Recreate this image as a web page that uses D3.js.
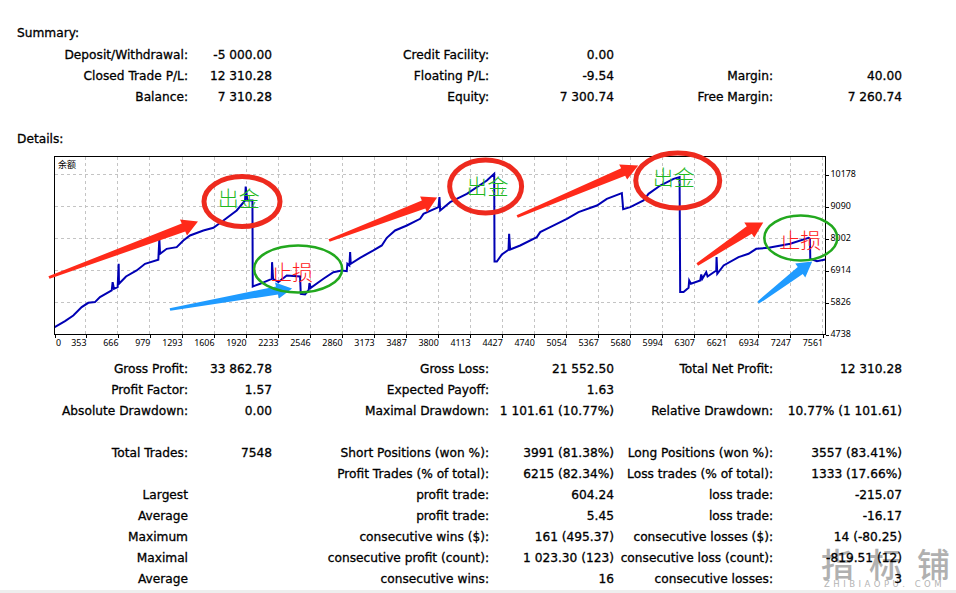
<!DOCTYPE html>
<meta charset="utf-8">
<style>

    body {
        margin: 0;
        background: #fff;
    }

    text {
        font-family: "DejaVu Sans", sans-serif;
        fill: #000;
    }

    .report text {
        font-size: 12.2px;
        text-anchor: end;
        stroke: #000;
        stroke-width: 0.3px;
    }

    .report .head {
        text-anchor: start;
    }

    .axis text {
        font-family: "Noto Sans", sans-serif;
        font-size: 8.9px;
    }

    .axis path,
    .axis line {
        stroke: #000;
        shape-rendering: crispEdges;
    }

    .grid line {
        stroke: #c4c4c4;
        stroke-dasharray: 3,3;
        shape-rendering: crispEdges;
    }

    .note {
        font-family: "Noto Sans CJK SC", sans-serif;
        font-size: 21px;
        font-weight: 300;
        text-anchor: middle;
    }

</style>
<body>
<script src="https://d3js.org/d3.v7.min.js"></script>
<script>

    // balance curve
    var trades = [47,148,229,311,376,441,490,605,614,627,663,673,676,745,849,931,1061,1071,1078,1143,1241,1306,1371,1502,1600,1698,1828,1910,1916,1933,1982,1985,2057,2171,2174,2184,2236,2318,2448,2455,2497,2533,2540,2553,2677,2774,2856,2905,2911,2931,2938,2944,3035,3166,3248,3297,3378,3493,3623,3656,3803,3812,3819,3917,4080,4276,4348,4351,4374,4423,4488,4494,4504,4602,4765,4798,4896,5059,5173,5353,5450,5597,5610,5679,5809,5858,5973,6103,6162,6168,6201,6250,6256,6273,6364,6374,6384,6423,6436,6521,6524,6531,6593,6739,6837,6912,7033,7245,7425,7438,7441,7506,7588];
    var balances = [4989,5193,5385,5669,5816,5839,6009,6235,6518,6292,6349,7142,6462,6711,6915,7142,7278,7991,7482,7651,7708,7935,8105,8275,8365,8615,8955,9294,9770,9294,9294,6371,6462,6632,7198,6632,6518,6745,6711,6122,6099,6258,6485,6326,6632,6858,6915,6892,7142,7085,7538,7142,7346,7595,7765,8025,8275,8445,8671,8841,9068,9408,8955,9238,9521,9974,10201,7221,7221,7459,7618,8161,7629,7765,8048,8218,8388,8671,8898,9124,9351,9544,9000,9068,9294,9521,9804,10031,10088,6179,6179,6326,6575,6462,6575,6779,6632,6858,6711,6915,7368,6802,7085,7368,7481,7651,7685,7821,8025,7991,7311,7232,7289];

    var xTicks = [0,353,666,979,1293,1606,1920,2233,2546,2860,3173,3487,3800,4113,4427,4740,5054,5367,5680,5994,6307,6621,6934,7247,7561];
    var yTicks = [4738,5826,6914,8002,9090,10178];

    // report table: [y row, label/value pairs]
    var summaryRows = [
        [55, "Deposit/Withdrawal:", "-5 000.00", "Credit Facility:", "0.00", "", ""],
        [76, "Closed Trade P/L:", "12 310.28", "Floating P/L:", "-9.54", "Margin:", "40.00"],
        [97, "Balance:", "7 310.28", "Equity:", "7 300.74", "Free Margin:", "7 260.74"]
    ];
    var detailRows = [
        [369, "Gross Profit:", "33 862.78", "Gross Loss:", "21 552.50", "Total Net Profit:", "12 310.28"],
        [390, "Profit Factor:", "1.57", "Expected Payoff:", "1.63", "", ""],
        [411, "Absolute Drawdown:", "0.00", "Maximal Drawdown:", "1 101.61 (10.77%)", "Relative Drawdown:", "10.77% (1 101.61)"],
        [453, "Total Trades:", "7548", "Short Positions (won %):", "3991 (81.38%)", "Long Positions (won %):", "3557 (83.41%)"],
        [474, "", "", "Profit Trades (% of total):", "6215 (82.34%)", "Loss trades (% of total):", "1333 (17.66%)"],
        [495, "Largest", "", "profit trade:", "604.24", "loss trade:", "-215.07"],
        [516, "Average", "", "profit trade:", "5.45", "loss trade:", "-16.17"],
        [537, "Maximum", "", "consecutive wins ($):", "161 (495.37)", "consecutive losses ($):", "14 (-80.25)"],
        [558, "Maximal", "", "consecutive profit (count):", "1 023.30 (123)", "consecutive loss (count):", "-819.51 (12)"],
        [579, "Average", "", "consecutive wins:", "16", "consecutive losses:", "3"]
    ];
    var columnEnds = [188, 272, 489, 614, 773, 902];

    // hand-drawn markup, in chart units: tail, tip, two barbs
    var redArrows = [
        [[-9,6676],[1449,8580],[1273,8648],[1342,8104]],
        [[2732,7934],[3789,9396],[3623,9430],[3691,8886]],
        [[4573,8750],[5757,10484],[5571,10518],[5649,10008]],
        [[6335,7118],[6981,8546],[6795,8546],[6893,8036]]
    ];
    var blueArrows = [
        [[1175,5588],[2370,6302],[2203,6506],[2242,5962]],
        [[6932,5826],[7460,7220],[7294,7152],[7392,6676]]
    ];
    // centre trade, centre balance, radius in trades, radius in balance
    var redRings = [[1880,9260,372,850],[4264,9770,352,900],[6144,9974,411,935]];
    var greenRings = [[2429,6965,431,800],[7348,8019,357,765]];
    var withdrawNotes = [[1847,9332],[4282,9737],[6104,10076]];
    var stopNotes = [[2370,6846],[7344,7930]];

    var watermarkChars = ["指","标","铺"];

    var width = 956,
        height = 593,
        left = 54.5,
        right = 825.5,
        top_ = 156.5,
        bottom = 334.5;

    var x = d3.scaleLinear().domain([45, 7590]).range([left, right]);
    var y = d3.scaleLinear().domain([4738, 10790]).range([bottom, top_]);
    var xAxisScale = x.copy().clamp(true);

    var svg = d3.select("body").append("svg")
        .attr("width", width)
        .attr("height", height)
        .style("display", "block");

    // page edge at the bottom of the screenshot
    svg.append("rect")
        .attr("x", 0).attr("y", 590)
        .attr("width", width).attr("height", 3)
        .attr("fill", "#eeeeee");

    // grid
    var grid = svg.append("g").attr("class", "grid");
    grid.selectAll(".gx").data(xTicks.slice(1)).enter().append("line")
        .attr("x1", function(d) { return x(d); })
        .attr("x2", function(d) { return x(d); })
        .attr("y1", top_)
        .attr("y2", bottom);
    grid.selectAll(".gy").data(yTicks.slice(1)).enter().append("line")
        .attr("x1", left)
        .attr("x2", right)
        .attr("y1", function(d) { return y(d); })
        .attr("y2", function(d) { return y(d); });

    // balance line
    var line = d3.line()
        .x(function(d) { return x(d); })
        .y(function(d, i) { return y(balances[i]); });

    svg.append("path")
        .attr("d", line(trades))
        .attr("fill", "none")
        .attr("stroke", "#0000b4")
        .attr("stroke-width", 2);

    // frame and axes
    svg.append("rect")
        .attr("x", left).attr("y", top_)
        .attr("width", right - left).attr("height", bottom - top_)
        .attr("fill", "none").attr("stroke", "#000")
        .attr("shape-rendering", "crispEdges");

    var xAxis = svg.append("g")
        .attr("class", "axis")
        .attr("transform", "translate(0," + bottom + ")")
        .call(d3.axisBottom(xAxisScale).tickValues(xTicks).tickFormat(d3.format("d")).tickSize(3).tickPadding(2));
    xAxis.select(".domain").remove();
    xAxis.selectAll("text")
        .attr("text-anchor", function(d) { return d === 0 ? "start" : "end"; })
        .attr("dx", function(d) { return d === 0 ? 1 : 0; });

    var yAxis = svg.append("g")
        .attr("class", "axis")
        .attr("transform", "translate(" + right + ",0)")
        .call(d3.axisRight(y).tickValues(yTicks).tickFormat(d3.format("d")).tickSize(3).tickPadding(2));
    yAxis.select(".domain").remove();
    yAxis.selectAll("text").attr("dy", "0.2em");

    svg.append("text")
        .attr("x", 58).attr("y", 168)
        .style("font-family", "'Noto Sans CJK SC'")
        .style("font-size", "9px")
        .text("余额");

    // markup
    function arrowPath(a) {
        var tail = [x(a[0][0]), y(a[0][1])],
            tip = [x(a[1][0]), y(a[1][1])],
            b1 = [x(a[2][0]), y(a[2][1])],
            b2 = [x(a[3][0]), y(a[3][1])];
        var neck = function(b, o) {
            return [b[0] + (o[0] - b[0]) * 0.25, b[1] + (o[1] - b[1]) * 0.25];
        };
        // the tail is a short blunt edge, not a point
        var t1 = [tail[0] + (b1[0] - b2[0]) * 0.08, tail[1] + (b1[1] - b2[1]) * 0.08],
            t2 = [tail[0] - (b1[0] - b2[0]) * 0.08, tail[1] - (b1[1] - b2[1]) * 0.08];
        return "M" + [t1, neck(b1, b2), b1, tip, b2, neck(b2, b1), t2].join("L") + "Z";
    }

    function drawRings(data, color, w) {
        svg.selectAll(null).data(data).enter().append("ellipse")
            .attr("cx", function(d) { return x(d[0]); })
            .attr("cy", function(d) { return y(d[1]); })
            .attr("rx", function(d) { return x(d[0] + d[2]) - x(d[0]); })
            .attr("ry", function(d) { return y(d[1]) - y(d[1] + d[3]); })
            .attr("fill", "none")
            .attr("stroke", color)
            .attr("stroke-width", w);
    }

    svg.selectAll(null).data(redArrows).enter().append("path")
        .attr("d", arrowPath).attr("fill", "#ff2a1a");
    svg.selectAll(null).data(blueArrows).enter().append("path")
        .attr("d", arrowPath).attr("fill", "#1f9bff");

    drawRings(redRings, "#ee2a1e", 5);
    drawRings(greenRings, "#22a81e", 2.5);

    svg.selectAll(null).data(withdrawNotes).enter().append("text")
        .attr("class", "note")
        .attr("x", function(d) { return x(d[0]); })
        .attr("y", function(d) { return y(d[1]) + 7; })
        .style("fill", "#1fb81f")
        .text("出金");
    svg.selectAll(null).data(stopNotes).enter().append("text")
        .attr("class", "note")
        .attr("x", function(d) { return x(d[0]); })
        .attr("y", function(d) { return y(d[1]) + 7; })
        .style("fill", "#ff2020")
        .text("止损");

    // watermark goes under the report text
    var mark = svg.append("g");
    mark.selectAll(null).data(watermarkChars).enter().append("text")
        .attr("x", function(d, i) { return 821 + i * 48; })
        .attr("y", 577)
        .style("font-family", "'Noto Sans CJK SC'")
        .style("font-size", "33px")
        .style("font-weight", "500")
        .style("fill", "#b0b0b0")
        .text(function(d) { return d; });
    mark.append("text")
        .attr("x", 824).attr("y", 587)
        .style("font-size", "8.5px")
        .style("letter-spacing", "3.5px")
        .style("fill", "#b4b4b4")
        .text("ZHIBIAOPU. COM");

    // report text
    var report = svg.append("g").attr("class", "report");
    report.append("text").attr("class", "head").attr("x", 17).attr("y", 37).text("Summary:");
    report.append("text").attr("class", "head").attr("x", 17).attr("y", 143).text("Details:");

    var rows = report.selectAll(".row").data(summaryRows.concat(detailRows)).enter().append("g")
        .attr("transform", function(d) { return "translate(0," + (d[0] + 4) + ")"; });
    rows.selectAll("text").data(function(d) { return d.slice(1); }).enter().append("text")
        .attr("x", function(d, i) { return columnEnds[i]; })
        .text(function(d) { return d; });

</script>
